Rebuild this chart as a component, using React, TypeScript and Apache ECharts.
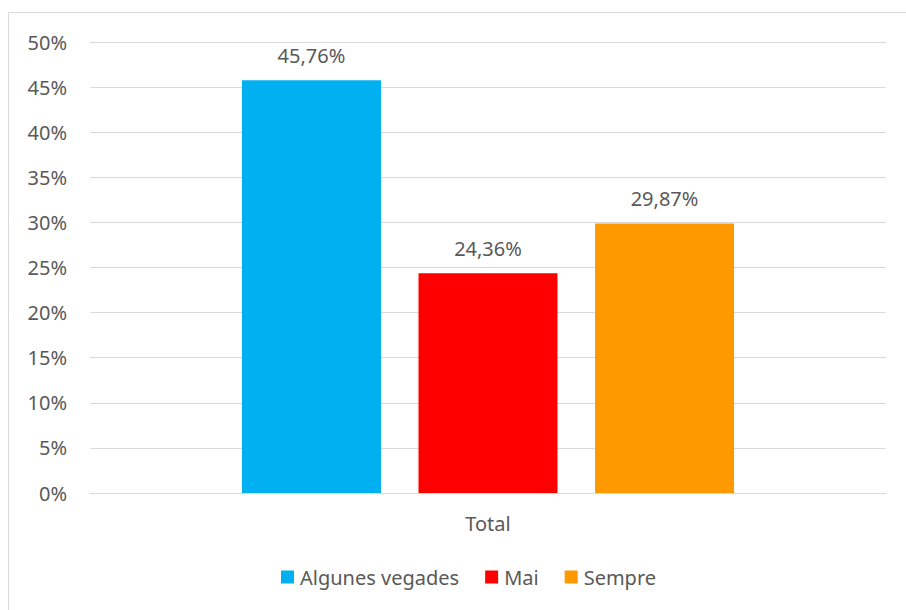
import React, { useEffect, useRef } from "react";
import * as echarts from "echarts";

const categories = ["Total"];
const seriesNames = ["Algunes vegades", "Mai", "Sempre"];
const seriesValues = [45.76, 24.36, 29.87];
const seriesColors = ["#00B0F0", "#FF0000", "#FF9900"];

const FONT = "Noto Sans";
const TEXT = "#595959";
const FS = 20;

export default function App() {
  const ref = useRef<HTMLDivElement>(null);
  useEffect(() => {
    if (!ref.current) return;
    const chart = echarts.init(ref.current, null, { renderer: "svg" });
    chart.setOption({
      animation: false,
      backgroundColor: "#ffffff",
      textStyle: { fontFamily: FONT },
      graphic: [
        {
          type: "rect",
          shape: { x: 8.5, y: 12.5, width: 1000, height: 1000 },
          style: { fill: "none", stroke: "#d9d9d9", lineWidth: 1 },
          silent: true,
        },
      ],
      grid: { left: 90, right: 20, top: 42, bottom: 117, containLabel: false },
      legend: {
        bottom: 18,
        left: 276,
        itemWidth: 13,
        itemHeight: 13,
        itemGap: 26,
        icon: "rect",
        textStyle: { color: TEXT, fontSize: FS, fontFamily: FONT, padding: [0, 0, 0, 1] },
        data: seriesNames,
      },
      xAxis: {
        type: "category",
        data: categories,
        axisLine: { lineStyle: { color: "#d9d9d9", width: 1 } },
        axisTick: { show: false },
        axisLabel: { color: TEXT, fontSize: FS, fontFamily: FONT, margin: 20 },
      },
      yAxis: {
        type: "value",
        min: 0,
        max: 50,
        interval: 5,
        axisLine: { show: false },
        axisTick: { show: false },
        axisLabel: {
          color: TEXT,
          fontSize: FS,
          fontFamily: FONT,
          margin: 23,
          formatter: (v: number) => `${v}%`,
        },
        splitLine: { lineStyle: { color: "#d9d9d9", width: 1 } },
      },
      series: seriesNames.map((name, i) => ({
        name,
        type: "bar",
        data: [seriesValues[i]],
        itemStyle: { color: seriesColors[i] },
        barWidth: 139,
        barGap: "27%",
        label: {
          show: true,
          position: "top",
          distance: 15,
          color: TEXT,
          fontSize: FS,
          fontFamily: FONT,
          formatter: (p: any) => `${p.value.toFixed(2).replace(".", ",")}%`,
        },
      })),
    });
    return () => chart.dispose();
  }, []);
  return (
    <div
      ref={ref}
      style={{ position: "absolute", left: 0, top: 0, width: 906, height: 610 }}
    />
  );
}
